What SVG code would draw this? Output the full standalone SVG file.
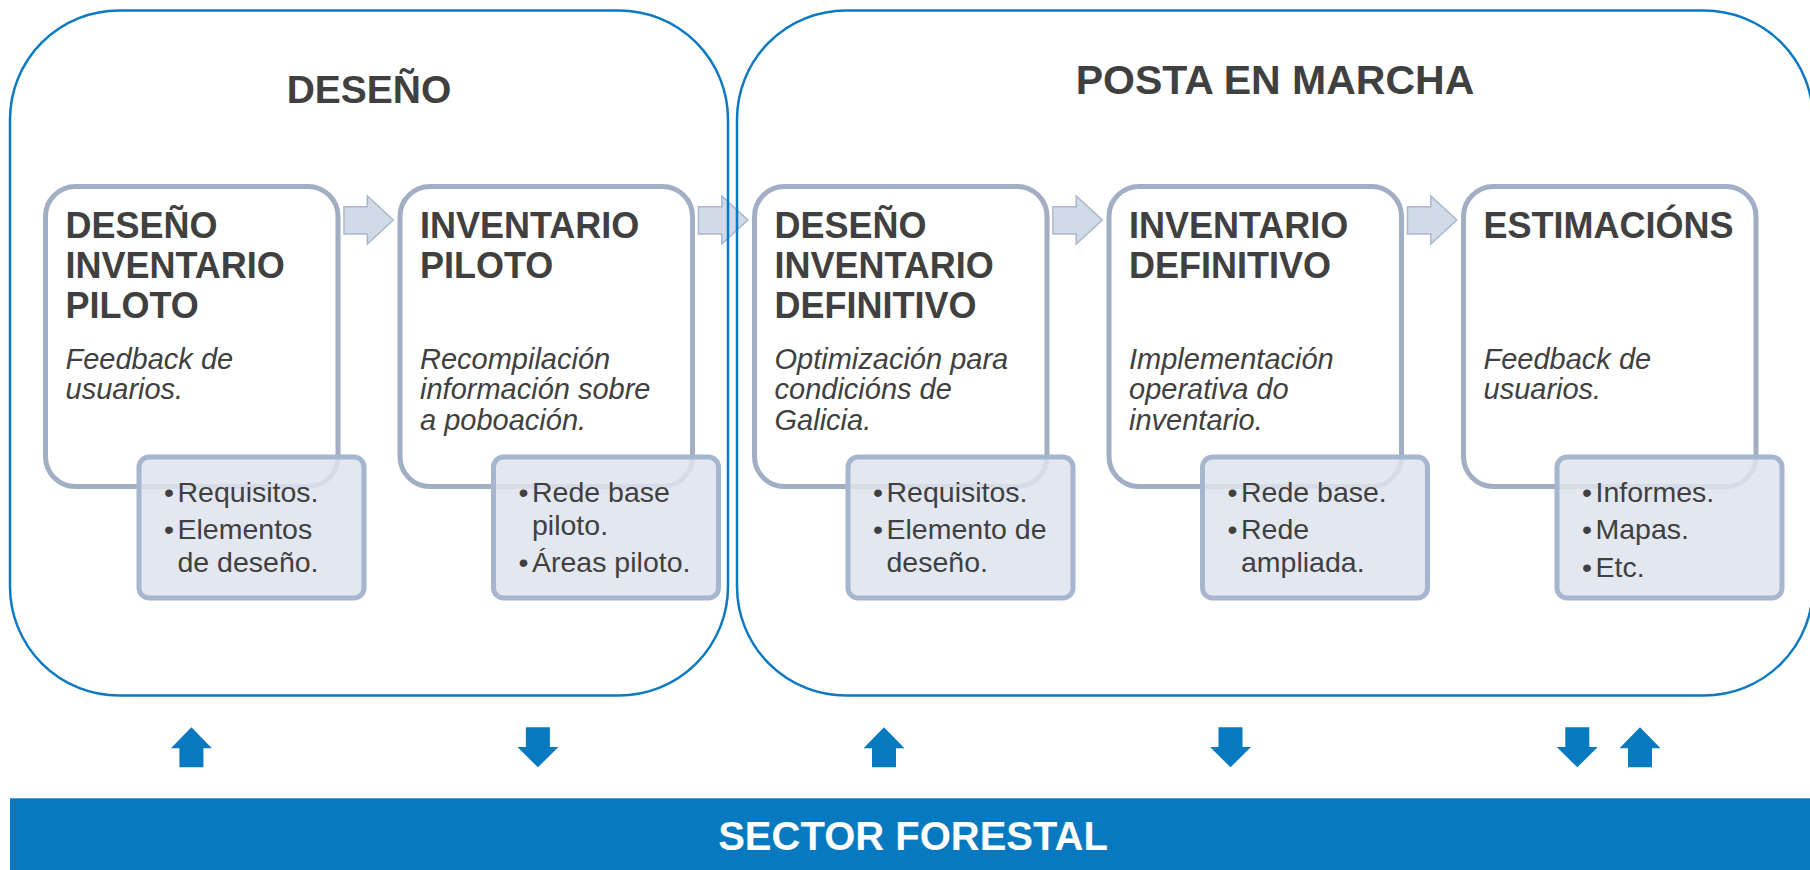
<svg xmlns="http://www.w3.org/2000/svg" xmlns:xlink="http://www.w3.org/1999/xlink" width="1810" height="870" viewBox="0 0 1810 870">
<style>
.outer{fill:none;stroke:#0B7AC2;stroke-width:2.5}
.phase{font-family:"Liberation Sans",Arial,sans-serif;font-weight:bold;fill:#404040}
.main{fill:#FFFFFF;stroke:#A2AEC4;stroke-width:5}
.sub{fill:#DEE3ED;fill-opacity:0.85;stroke:#A7B6CF;stroke-width:5}
.ttl{font-family:"Liberation Sans",Arial,sans-serif;font-weight:bold;font-size:36px;fill:#404040}
.dsc{font-family:"Liberation Sans",Arial,sans-serif;font-style:italic;font-size:29px;fill:#404040}
.bul{font-family:"Liberation Sans",Arial,sans-serif;font-size:28.5px;fill:#404040}
.chev{fill:#D1DAE7;stroke:#A9B7CD;stroke-width:1.5}
.varr{fill:#0779C1}
</style>
<defs>
<path id="chev" d="M0,206.7 H23.3 V196 L49.3,220 L23.3,244 V234 H0 Z"/>
<path id="up" d="M-20.5,748.3 L0,727.3 L20.5,748.3 H12 V767.3 H-12 V748.3 Z"/>
<path id="down" d="M-12,727.3 H12 V747 H20.5 L0,767.3 L-20.5,747 H-12 Z"/>
</defs>
<rect width="1810" height="870" fill="#FFFFFF"/>

<g id="connectors">
<use xlink:href="#chev" class="chev" x="344"/>
<use xlink:href="#chev" class="chev" x="698.5"/>
<use xlink:href="#chev" class="chev" x="1053"/>
<use xlink:href="#chev" class="chev" x="1407.5"/>
<use xlink:href="#up" class="varr" x="191.4"/>
<use xlink:href="#down" class="varr" x="537.9"/>
<use xlink:href="#up" class="varr" x="884"/>
<use xlink:href="#down" class="varr" x="1230.5"/>
<use xlink:href="#down" class="varr" x="1577.3"/>
<use xlink:href="#up" class="varr" x="1640"/>
</g>

<g id="phase-desenho">
<rect class="outer" x="10" y="10.5" width="718" height="685" rx="109"/>
<text class="phase" x="369" y="103.3" font-size="39" text-anchor="middle">DESEÑO</text>
</g>

<g id="phase-posta">
<rect class="outer" x="737" y="10.5" width="1076" height="685" rx="109"/>
<text class="phase" x="1275" y="94.3" font-size="41" text-anchor="middle">POSTA EN MARCHA</text>
</g>

<g id="node-desenho-piloto">
<rect class="main" x="45.5" y="186.5" width="292.5" height="300" rx="30"/>
<text class="ttl" x="65.5" y="238.3">DESEÑO</text>
<text class="ttl" x="65.5" y="278.3">INVENTARIO</text>
<text class="ttl" x="65.5" y="318.3">PILOTO</text>
<text class="dsc" x="65.5" y="368.5">Feedback de</text>
<text class="dsc" x="65.5" y="399">usuarios.</text>
<rect class="sub" x="139" y="457" width="225" height="141" rx="10"/>
<text class="bul" x="164" y="502">•</text><text class="bul" x="177.5" y="502">Requisitos.</text>
<text class="bul" x="164" y="539">•</text><text class="bul" x="177.5" y="539">Elementos</text>
<text class="bul" x="177.5" y="571.5">de deseño.</text>
</g>

<g id="node-inventario-piloto">
<rect class="main" x="400" y="186.5" width="292.5" height="300" rx="30"/>
<text class="ttl" x="420" y="238.3">INVENTARIO</text>
<text class="ttl" x="420" y="278.3">PILOTO</text>
<text class="dsc" x="420" y="368.5">Recompilación</text>
<text class="dsc" x="420" y="399">información sobre</text>
<text class="dsc" x="420" y="430">a poboación.</text>
<rect class="sub" x="493.5" y="457" width="225" height="141" rx="10"/>
<text class="bul" x="518.5" y="502">•</text><text class="bul" x="532" y="502">Rede base</text>
<text class="bul" x="532" y="534.5">piloto.</text>
<text class="bul" x="518.5" y="571.5">•</text><text class="bul" x="532" y="571.5">Áreas piloto.</text>
</g>

<g id="node-desenho-definitivo">
<rect class="main" x="754.5" y="186.5" width="292.5" height="300" rx="30"/>
<text class="ttl" x="774.5" y="238.3">DESEÑO</text>
<text class="ttl" x="774.5" y="278.3">INVENTARIO</text>
<text class="ttl" x="774.5" y="318.3">DEFINITIVO</text>
<text class="dsc" x="774.5" y="368.5">Optimización para</text>
<text class="dsc" x="774.5" y="399">condicións de</text>
<text class="dsc" x="774.5" y="430">Galicia.</text>
<rect class="sub" x="848" y="457" width="225" height="141" rx="10"/>
<text class="bul" x="873" y="502">•</text><text class="bul" x="886.5" y="502">Requisitos.</text>
<text class="bul" x="873" y="539">•</text><text class="bul" x="886.5" y="539">Elemento de</text>
<text class="bul" x="886.5" y="571.5">deseño.</text>
</g>

<g id="node-inventario-definitivo">
<rect class="main" x="1109" y="186.5" width="292.5" height="300" rx="30"/>
<text class="ttl" x="1129" y="238.3">INVENTARIO</text>
<text class="ttl" x="1129" y="278.3">DEFINITIVO</text>
<text class="dsc" x="1129" y="368.5">Implementación</text>
<text class="dsc" x="1129" y="399">operativa do</text>
<text class="dsc" x="1129" y="430">inventario.</text>
<rect class="sub" x="1202.5" y="457" width="225" height="141" rx="10"/>
<text class="bul" x="1227.5" y="502">•</text><text class="bul" x="1241" y="502">Rede base.</text>
<text class="bul" x="1227.5" y="539">•</text><text class="bul" x="1241" y="539">Rede</text>
<text class="bul" x="1241" y="571.5">ampliada.</text>
</g>

<g id="node-estimacions">
<rect class="main" x="1463.5" y="186.5" width="292.5" height="300" rx="30"/>
<text class="ttl" x="1483.5" y="238.3">ESTIMACIÓNS</text>
<text class="dsc" x="1483.5" y="368.5">Feedback de</text>
<text class="dsc" x="1483.5" y="399">usuarios.</text>
<rect class="sub" x="1557" y="457" width="225" height="141" rx="10"/>
<text class="bul" x="1582" y="502">•</text><text class="bul" x="1595.5" y="502">Informes.</text>
<text class="bul" x="1582" y="539.3">•</text><text class="bul" x="1595.5" y="539.3">Mapas.</text>
<text class="bul" x="1582" y="576.6">•</text><text class="bul" x="1595.5" y="576.6">Etc.</text>
</g>

<g id="sector-forestal">
<rect x="10" y="798.3" width="1800" height="71.7" fill="#0779C1"/>
<text x="913" y="850" font-family="'Liberation Sans',Arial,sans-serif" font-weight="bold" font-size="40" fill="#FFFFFF" text-anchor="middle">SECTOR FORESTAL</text>
</g>
</svg>
